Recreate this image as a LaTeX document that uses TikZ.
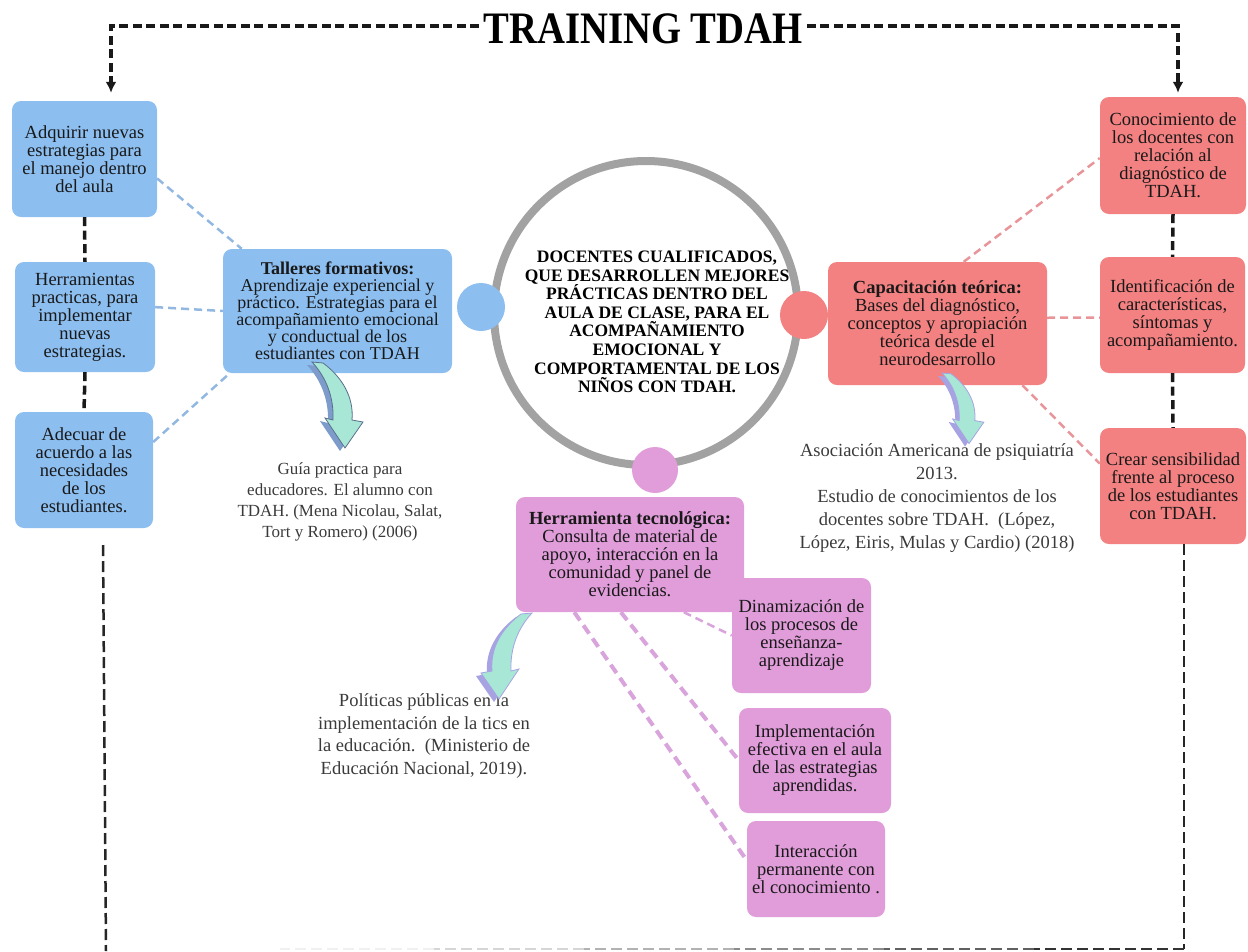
\documentclass[tikz,border=0pt]{standalone}
\usepackage{fontspec}
\setmainfont{Liberation Serif}
\usetikzlibrary{arrows.meta}

\definecolor{talblue}{HTML}{8CBEF0}
\definecolor{capred}{HTML}{F38181}
\definecolor{herpink}{HTML}{E09DDA}
\definecolor{ringgray}{HTML}{A2A2A2}
\definecolor{linkblue}{HTML}{92B8E2}
\definecolor{linkred}{HTML}{E8959A}
\definecolor{linkpink}{HTML}{D9A3DB}
\definecolor{notegray}{HTML}{3A3A3A}
\definecolor{mint}{HTML}{A8E6D6}
\definecolor{shadeblue}{HTML}{7D9BCB}
\definecolor{shadelilac}{HTML}{A7A3E3}
\definecolor{arrowedge}{HTML}{5A6E8C}

\tikzset{
  heading/.style={inner sep=4pt, font=\fontsize{45}{45}\selectfont\bfseries},
  box/.style={rectangle, rounded corners=9pt, inner sep=0pt, align=center, text=black!90, font=\fontsize{18.5}{18}\selectfont},
  bluebox/.style={box, fill=talblue},
  redbox/.style={box, fill=capred},
  pinkbox/.style={box, fill=herpink},
  dot/.style={circle, minimum size=48pt, inner sep=0pt},
  goal/.style={align=center, font=\fontsize{17.5}{18.6}\selectfont\bfseries},
  note/.style={align=center, text=notegray},
  frame/.style={black!90, line width=3.5pt, dash pattern=on 9pt off 4.5pt},
  framelow/.style={black!85, line width=2.5pt, dash pattern=on 11pt off 5pt},
  bluelink/.style={linkblue, line width=2.5pt, dash pattern=on 8pt off 5pt},
  redlink/.style={linkred, line width=2.5pt, dash pattern=on 8pt off 5pt},
  pinklink/.style={linkpink, line width=4pt, dash pattern=on 10pt off 6pt},
  bentarrow/.pic={
    \path[pic actions] (0,0) -- (11,1) .. controls (30,15) and (42,35) .. (40,58)
      -- (51,60) -- (33,86) -- (13,56) -- (21,58) .. controls (22,35) and (14,15) .. cycle;
  }
}

\begin{document}
\begin{tikzpicture}[x=1pt,y=-1pt]
\useasboundingbox (0,0) rectangle (1248,951);

% centre
\node[circle, draw=ringgray, line width=8pt, minimum size=304pt, inner sep=0pt] (ring) at (646,313) {};
\node[goal] (goal) at (657,322) {DOCENTES CUALIFICADOS,\\QUE DESARROLLEN MEJORES\\PRÁCTICAS DENTRO DEL\\AULA DE CLASE, PARA EL\\ACOMPAÑAMIENTO\\EMOCIONAL Y\\COMPORTAMENTAL DE LOS\\NIÑOS CON TDAH.};
\node[dot, fill=talblue] (dotT) at (481,307) {};
\node[dot, fill=capred] (dotC) at (804,315) {};
\node[dot, fill=herpink, minimum size=46pt] (dotH) at (655,470) {};

% left side
\node[bluebox, minimum width=145pt, minimum height=116pt] (A1) at (84.5,159) {Adquirir nuevas\\estrategias para\\el manejo dentro\\del aula};
\node[bluebox, minimum width=140pt, minimum height=110pt] (A2) at (85,317) {Herramientas\\practicas, para\\implementar\\nuevas\\estrategias.};
\node[bluebox, minimum width=138pt, minimum height=116pt] (A3) at (84,470) {Adecuar de\\acuerdo a las\\necesidades\\de los\\estudiantes.};
\node[bluebox, minimum width=229pt, minimum height=124pt, font=\fontsize{18}{17}\selectfont] (T) at (337.5,311) {\textbf{Talleres formativos:}\\Aprendizaje experiencial y\\práctico. Estrategias para el\\acompañamiento emocional\\y conductual de los\\estudiantes con TDAH};

% right side
\node[redbox, minimum width=219pt, minimum height=123pt] (C) at (937.5,323.5) {\textbf{Capacitación teórica:}\\Bases del diagnóstico,\\conceptos y apropiación\\teórica desde el\\neurodesarrollo};
\node[redbox, minimum width=146pt, minimum height=117pt] (R1) at (1173,155.5) {Conocimiento de\\los docentes con\\relación al\\diagnóstico de\\TDAH.};
\node[redbox, minimum width=145pt, minimum height=116pt] (R2) at (1172.5,315) {Identificación de\\características,\\síntomas y\\acompañamiento.};
\node[redbox, minimum width=146pt, minimum height=116pt] (R3) at (1173,486) {Crear sensibilidad\\frente al proceso\\de los estudiantes\\con TDAH.};

% bottom
\node[pinkbox, minimum width=228pt, minimum height=115pt] (H) at (630,554.5) {\textbf{Herramienta tecnológica:}\\Consulta de material de\\apoyo, interacción en la\\comunidad y panel de\\evidencias.};
\node[pinkbox, minimum width=139pt, minimum height=115pt] (D1) at (801.5,635.5) {Dinamización de\\los procesos de\\enseñanza-\\aprendizaje};
\node[pinkbox, minimum width=152pt, minimum height=105pt] (D2) at (815,760.5) {Implementación\\efectiva en el aula\\de las estrategias\\aprendidas.};
\node[pinkbox, minimum width=138pt, minimum height=96pt] (D3) at (816,869) {Interacción\\permanente con\\el conocimiento .};

% references
\node[note, font=\fontsize{17}{21}\selectfont] (guide) at (340,501.5) {Guía practica para\\educadores. El alumno con\\TDAH. (Mena Nicolau, Salat,\\Tort y Romero) (2006)};
\node[note, font=\fontsize{18.5}{23}\selectfont] (asoc) at (937,498) {Asociación Americana de psiquiatría\\2013.\\Estudio de conocimientos de los\\docentes sobre TDAH.\ \ (López,\\López, Eiris, Mulas y Cardio) (2018)};
\node[note, font=\fontsize{18.5}{22.6}\selectfont] (poli) at (424,736) {Políticas públicas en la\\implementación de la tics en\\la educación.\ \ (Ministerio de\\Educación Nacional, 2019).};

% title and frame
\node[heading] (title) at (643,29) {\scalebox{0.86}[1]{TRAINING TDAH}};
\coordinate (tl) at (111,26);
\coordinate (tr) at (1178,26);
\coordinate (bltop) at (103,545);
\coordinate (bl) at (106,951);
\coordinate (br) at (1184,949);

\draw[frame, -{Latex[length=11pt,width=11pt]}, shorten >=8pt] (title.west |- tl) -- (tl) -- (tl |- A1.north);
\draw[frame, -{Latex[length=11pt,width=11pt]}, shorten >=4pt] (title.east |- tr) -- (tr) -- (tr |- R1.north);
\draw[frame] (A1.south) -- (A2.north);
\draw[frame] (A2.south) -- (A3.north);
\draw[frame] (R1.south) -- (R2.north);
\draw[frame] (R2.south) -- (R3.north);
\draw[framelow] (bltop) -- (bl);
\draw[framelow] (R3.south -| br) -- (br);
\foreach \xa/\xb/\shade in {1184/1034/80, 1034/884/62, 884/734/45, 734/584/30, 584/434/16, 434/280/6}
  \draw[framelow, black!\shade] (\xa,949) -- (\xb,949);

% links
\draw[bluelink] (A1.-15) -- (T.147);
\draw[bluelink] (A2.8) -- (T.180);
\draw[bluelink] (A3.22) -- (T.210);
\draw[redlink] (C.67) -- (R1.182);
\draw[redlink] (C.3) -- (R2.182);
\draw[redlink] (C.-36) -- (R3.163);
\draw[pinklink, line width=2.5pt, dash pattern=on 8pt off 5pt] (H.-47) -- (D1.west);
\draw[pinklink] (H.-99) -- (D2.west);
\draw[pinklink] (H.-134) -- (D3.173);

% curved arrows
\pic[fill=shadeblue] at (307,365) {bentarrow};
\pic[fill=mint, draw=arrowedge, line width=0.8pt] at (312,362) {bentarrow};
\pic[fill=shadelilac, scale=0.82] at (938,376) {bentarrow};
\pic[fill=mint, draw=shadelilac, line width=0.8pt, scale=0.82] at (942,373) {bentarrow};
\pic[fill=shadelilac, xscale=-1] at (527,616) {bentarrow};
\pic[fill=mint, draw=shadelilac, line width=0.8pt, xscale=-1] at (532,613) {bentarrow};
\end{tikzpicture}
\end{document}
